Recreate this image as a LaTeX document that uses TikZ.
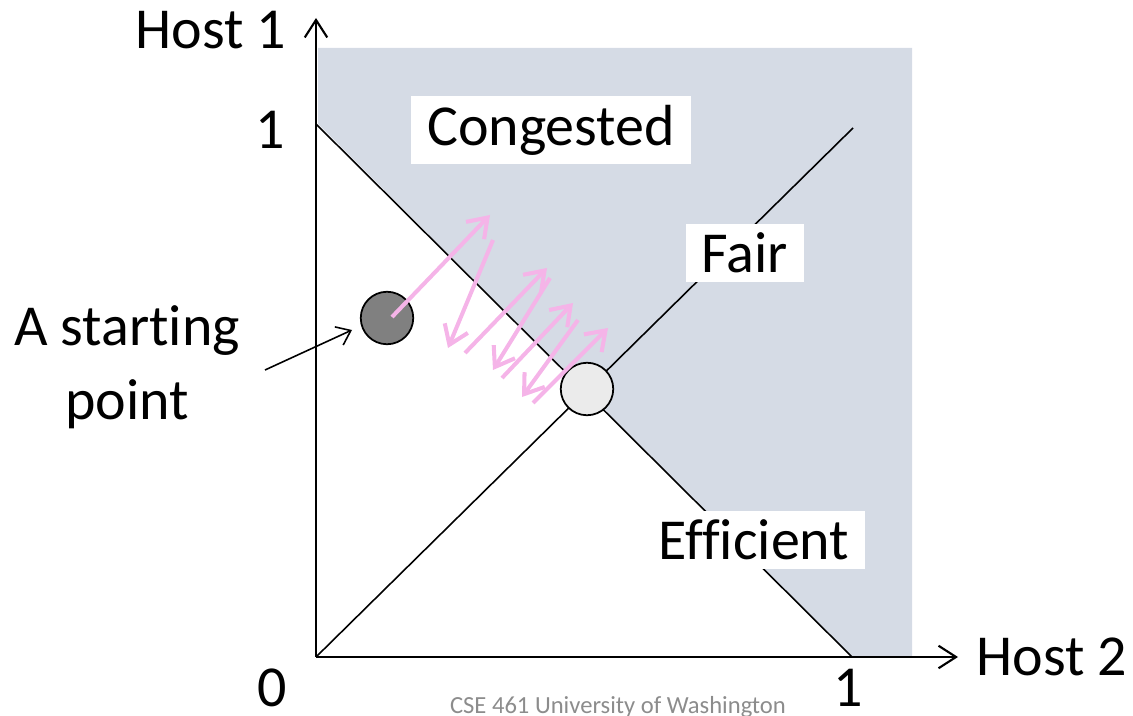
\documentclass[tikz,border=0pt]{standalone}
\usepackage{fontspec}
\setmainfont{Carlito}[Ligatures=NoCommon]
\usepackage{tikz}
\usetikzlibrary{arrows.meta,positioning}
\definecolor{congfill}{HTML}{D5DBE5}
\definecolor{stepink}{HTML}{F5B4E8}
\definecolor{footgray}{HTML}{8C8C8C}
\tikzset{
  plot/axis/.style={line width=1.2pt, -{Straight Barb[length=3.5mm,width=4.5mm]}},
  plot/line/.style={line width=0.9pt},
  plot/label/.style={font=\fontsize{33}{42}\selectfont, inner sep=0pt, align=center},
  plot/region/.style={plot/label, fill=white, inner xsep=9pt, inner ysep=5pt},
  plot/dot/.style={draw, circle, line width=1pt, minimum size=10.5mm, inner sep=0pt},
  plot/stepar/.style={stepink, line width=2.3pt, -{Straight Barb[length=3.6mm,width=5mm]}},
  plot/ptr/.style={line width=0.9pt, -{Straight Barb[length=2.6mm,width=4mm]}}
}

\begin{document}
\begin{tikzpicture}[x=0.02cm, y=-0.02cm]
  \useasboundingbox (0,0) rectangle (1133,716);

  % congested region
  \fill[congfill] (318,48) -- (912,48) -- (912,657) -- (852,657) -- (318,124) -- cycle;

  \coordinate (origin) at (316,657);
  \coordinate (ytop) at (316,18);
  \coordinate (xend) at (958,657);
  \coordinate (yone) at (316,124);
  \coordinate (xone) at (852,657);
  \coordinate (fairend) at (853,128);

  \draw[plot/line] (yone) -- (xone);
  \draw[plot/line] (origin) -- (fairend);
  \draw[plot/axis] (origin) -- (ytop);
  \draw[plot/axis] (origin) -- (xend);

  \node[plot/label] (host1) at (211,30) {Host 1};
  \node[plot/label] (host2) at (1052,657) {Host 2};
  \node[plot/label] (ylab1) at (270,130) {1};
  \node[plot/label] (xlab1) at (848,688) {1};
  \node[plot/label] (zero) at (272,688) {0};

  \node[plot/region] (cong) at (551,130) {Congested};
  \node[plot/region] (fair) at (745,253) {Fair};
  \node[plot/region] (effic) at (754,540) {Efficient};

  \node[plot/label] (startlbl) at (127,367) {A starting\\point};
  \coordinate (ptrfrom) at (265,370);
  \coordinate (ptrto) at (352,330);
  \draw[plot/ptr] (ptrfrom) -- (ptrto);

  \node[plot/dot, fill=black!50] (start) at (387,318) {};
  \node[plot/dot, fill=black!8] (goal) at (587,389) {};

  % additive increase / multiplicative decrease steps
  \coordinate (s0) at (392,317);  \coordinate (s1) at (490,215);
  \coordinate (s2) at (493,240);  \coordinate (s3) at (448,348);
  \coordinate (s4) at (465,353);  \coordinate (s5) at (547,268);
  \coordinate (s6) at (550,278);  \coordinate (s7) at (493,370);
  \coordinate (s8) at (502,378);  \coordinate (s9) at (573,303);
  \coordinate (s10) at (578,320); \coordinate (s11) at (522,397);
  \coordinate (s12) at (533,403); \coordinate (s13) at (608,328);
  \foreach \a/\b in {s0/s1,s2/s3,s4/s5,s6/s7,s8/s9,s10/s11,s12/s13}
    \draw[plot/stepar] (\a) -- (\b);

  \node[font=\fontsize{14}{16}\selectfont, text=footgray, inner sep=0pt] (foot) at (618,707) {CSE 461 University of Washington};
\end{tikzpicture}
\end{document}
